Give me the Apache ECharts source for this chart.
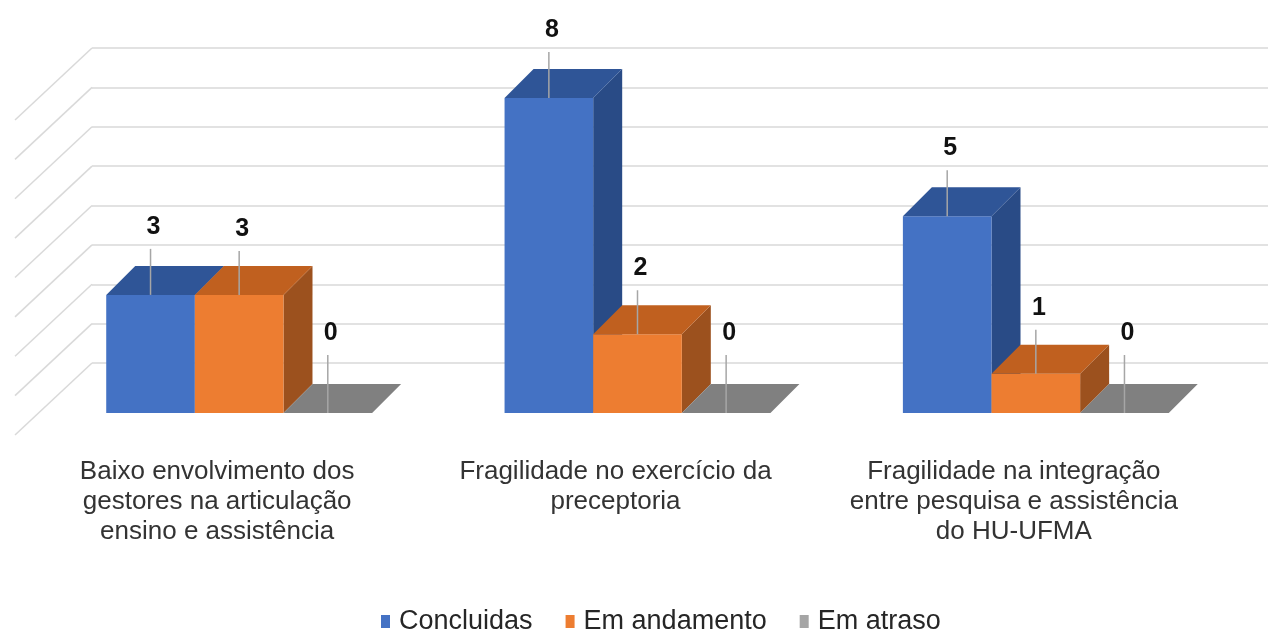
<!DOCTYPE html>
<html>
<head>
<meta charset="utf-8">
<script src="https://cdn.jsdelivr.net/npm/echarts@6/dist/echarts.min.js"></script>
<style>
  html, body { margin: 0; padding: 0; background: #ffffff; }
  #chart { width: 1268px; height: 636px; }
</style>
</head>
<body>
<div id="chart"></div>
<script>
// Categories (axis labels) and the three status series
const categories = [
  'Baixo envolvimento dos\ngestores na articulação\nensino e assistência',
  'Fragilidade no exercício da\npreceptoria',
  'Fragilidade na integração\nentre pesquisa e assistência\ndo HU-UFMA'
];
const seriesNames = ['Concluidas', 'Em andamento', 'Em atraso'];
const concluidas  = [3, 8, 5];
const emAndamento = [3, 2, 1];
const emAtraso    = [0, 0, 0];
const yTicks = [0, 1, 2, 3, 4, 5, 6, 7, 8];

const FONT = '"Liberation Sans", Arial, sans-serif';
const DEPTH = 29;            // oblique depth of each column
const BAR_FRACTION = 0.2225; // column width relative to the category band

const faces = [
  { front: '#4472C4', top: '#2F5597', side: '#294B86' },
  { front: '#ED7D31', top: '#C0601F', side: '#9C511E' },
  { front: '#A5A5A5', top: '#808080', side: '#6E6E6E' }
];
const labelOffsets = [
  { leader: 46, text: 68 },
  { leader: 44, text: 66 },
  { leader: 58, text: 80 }
];

function barRenderer(slot) {
  const f = faces[slot];
  const lo = labelOffsets[slot];
  return function (params, api) {
    const c = api.value(0);
    const v = api.value(1);
    const base = api.coord([c, 0]);
    const top = api.coord([c, v]);
    const band = api.size([1, 0])[0];
    const w = band * BAR_FRACTION;
    const x0 = base[0] + (slot - 1.5) * w;
    const x1 = x0 + w;
    const yT = top[1];
    const yB = base[1];
    const d = DEPTH;
    const children = [];
    if (yB - yT > 0.5) {
      children.push({
        type: 'polygon',
        shape: { points: [[x1, yT], [x1 + d, yT - d], [x1 + d, yB - d], [x1, yB]] },
        style: { fill: f.side }
      });
      children.push({
        type: 'rect',
        shape: { x: x0, y: yT, width: w, height: yB - yT },
        style: { fill: f.front }
      });
    }
    children.push({
      type: 'polygon',
      shape: { points: [[x0, yT], [x1, yT], [x1 + d, yT - d], [x0 + d, yT - d]] },
      style: { fill: f.top }
    });
    const cx = x0 + w / 2;
    children.push({
      type: 'line',
      shape: { x1: cx, y1: yT, x2: cx, y2: yT - lo.leader },
      style: { stroke: '#A6A6A6', lineWidth: 1.5 }
    });
    children.push({
      type: 'text',
      x: cx + 3,
      y: yT - lo.text,
      style: {
        text: String(v),
        fill: '#111111',
        font: 'bold 25px ' + FONT,
        align: 'center',
        verticalAlign: 'middle'
      }
    });
    return { type: 'group', children: children };
  };
}

function toPoints(arr) { return arr.map((v, i) => [i, v]); }
const seriesValues = [concluidas, emAndamento, emAtraso];

const chart = echarts.init(document.getElementById('chart'), null, { renderer: 'canvas' });

const option = {
  backgroundColor: '#ffffff',
  animation: false,
  legend: {
    data: seriesNames,
    left: 376,
    top: 603,
    icon: 'rect',
    itemWidth: 9,
    itemHeight: 13,
    itemGap: 33,
    textStyle: { fontFamily: FONT, fontSize: 27, color: '#262626', padding: [0, 0, 0, 4] }
  },
  grid: [
    // front plane of the columns
    { left: 40, right: 33, top: 98, bottom: 223 },
    // back wall carrying the gridlines
    { left: 92, right: 0, top: 48, bottom: 273 }
  ],
  xAxis: [
    {
      gridIndex: 0,
      type: 'category',
      data: categories,
      axisLine: { show: false },
      axisTick: { show: false },
      splitLine: { show: false },
      axisLabel: {
        interval: 0,
        margin: 44,
        fontFamily: FONT,
        fontSize: 26,
        lineHeight: 30,
        color: '#333333',
        padding: [0, 44, 0, 0]
      }
    },
    { gridIndex: 1, type: 'value', min: 0, max: 1, show: false }
  ],
  yAxis: [
    { gridIndex: 0, type: 'value', min: 0, max: 8, interval: 1, show: false },
    {
      gridIndex: 1,
      type: 'value',
      min: 0,
      max: 8,
      interval: 1,
      axisLine: { show: false },
      axisTick: { show: false },
      axisLabel: { show: false },
      splitLine: { show: true, lineStyle: { color: '#D9D9D9', width: 1.5 } }
    }
  ],
  series: [
    {
      name: 'gridDepth',
      type: 'custom',
      xAxisIndex: 1,
      yAxisIndex: 1,
      silent: true,
      z: 1,
      data: yTicks.map(t => [0, t]),
      renderItem: function (params, api) {
        const p = api.coord([0, api.value(1)]);
        return {
          type: 'line',
          shape: { x1: p[0], y1: p[1], x2: p[0] - 77, y2: p[1] + 72 },
          style: { stroke: '#D9D9D9', lineWidth: 1.5 }
        };
      }
    }
  ].concat(seriesNames.map((name, i) => ({
    name: name,
    type: 'custom',
    xAxisIndex: 0,
    yAxisIndex: 0,
    z: 2 + i,
    clip: false,
    itemStyle: { color: faces[i].front },
    data: toPoints(seriesValues[i]),
    renderItem: barRenderer(i)
  })))
};

chart.setOption(option);
</script>
</body>
</html>
